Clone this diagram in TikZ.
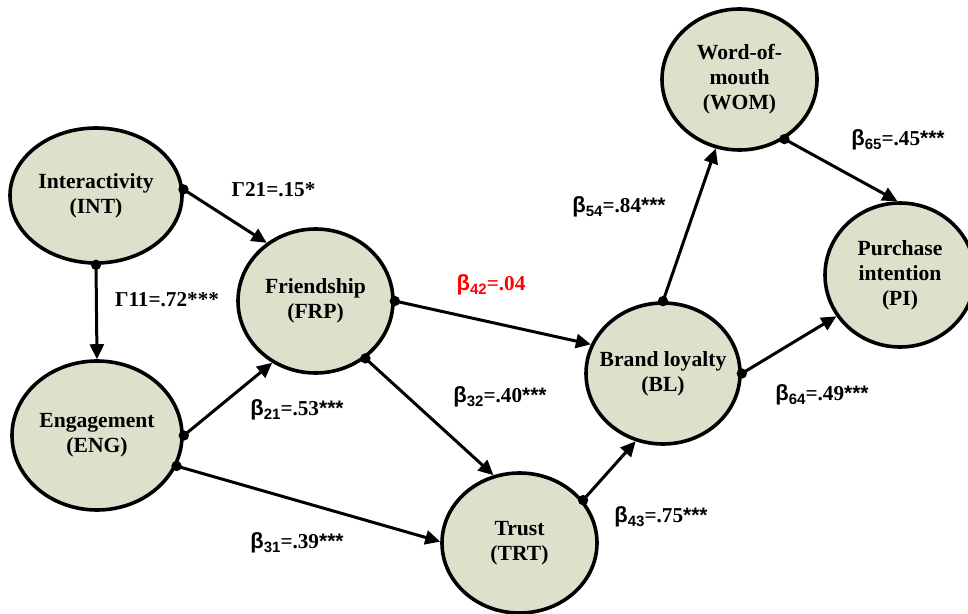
\documentclass[tikz,border=0pt]{standalone}
\usepackage{fontspec}
\setmainfont{Liberation Serif}
\newfontfamily\lsans{Liberation Sans}
\usetikzlibrary{arrows.meta,shapes.geometric}
\definecolor{nodefill}{RGB}{221,225,203}
\newcommand\blab[3]{{\lsans\bfseries\fontsize{11}{12}\selectfont β}\raisebox{-0.35ex}{\lsans\bfseries\fontsize{7.5}{8}\selectfont #1}=#2{\lsans\fontsize{10.5}{10}\selectfont #3}}
\begin{document}
\begin{tikzpicture}[x=0.5pt,y=-0.5pt,
  latent/.style={ellipse, draw=black, line width=1.8pt, fill=nodefill, inner sep=0pt},
  ntext/.style={align=center, inner sep=0pt, font=\fontsize{10.8}{12.5}\selectfont\bfseries},
  conn/.style={line width=1.5pt, -{Triangle[length=7.5pt,width=7pt]}},
  lab/.style={font=\fontsize{10.6}{12.5}\selectfont\bfseries, inner sep=0pt}]
\useasboundingbox (0,0) rectangle (968,614);
\fill[white] (0,0) rectangle (968,614);

\node[latent, minimum width=86pt, minimum height=67.5pt,
  label={[ntext]center:Interactivity\\(INT)}] (INT) at (96,195.5) {};
\node[latent, minimum width=85pt, minimum height=74.5pt,
  label={[ntext]center:Engagement\\(ENG)}] (ENG) at (97,435.5) {};
\node[latent, minimum width=77.5pt, minimum height=72pt,
  label={[ntext]center:Friendship\\(FRP)}] (FRP) at (315.5,301) {};
\node[latent, minimum width=77.5pt, minimum height=70pt,
  label={[ntext]center:Trust\\(TRT)}] (TRT) at (519.5,543) {};
\node[latent, minimum width=77pt, minimum height=70.5pt,
  label={[ntext]center:Brand loyalty\\(BL)}] (BL) at (663,373.5) {};
\node[latent, minimum width=77.5pt, minimum height=70.5pt,
  label={[ntext]center:Word-of-\\mouth\\(WOM)}] (WOM) at (739.5,79.5) {};
\node[latent, minimum width=75pt, minimum height=72pt,
  label={[ntext]center:Purchase\\intention\\(PI)}] (PI) at (900,275) {};

\draw[conn] (INT.4) -- (FRP.130);
\draw[conn] (INT.south) -- (ENG.north);
\draw[conn] (ENG.0) -- (FRP.235);
\draw[conn] (ENG.-21) -- (TRT.179);
\draw[conn] (FRP.0) -- (BL.158);
\draw[conn] (FRP.-49) -- (TRT.111);
\draw[conn] (TRT.34) -- (BL.248);
\draw[conn] (BL.90) -- (WOM.251);
\draw[conn] (BL.0) -- (PI.213);
\draw[conn] (WOM.-53) -- (PI.92);
\foreach \p in {INT.4, INT.south, ENG.0, ENG.-21, FRP.0, FRP.-49, TRT.34, BL.90, BL.0, WOM.-53}
  \fill (\p) circle (2.6pt);

\node[lab] (g21) at (273.5,190) {Γ21=.15*};
\node[lab] (g11) at (167,300) {Γ11=.72***};
\node[lab] (b21) at (297,410) {\blab{21}{.53}{***}};
\node[lab] (b31) at (297,543) {\blab{31}{.39}{***}};
\node[lab, text=red] (b42) at (491,285) {\blab{42}{.04}{}};
\node[lab] (b32) at (500,397) {\blab{32}{.40}{***}};
\node[lab] (b43) at (661,517) {\blab{43}{.75}{***}};
\node[lab] (b64) at (822,395) {\blab{64}{.49}{***}};
\node[lab] (b54) at (619,207) {\blab{54}{.84}{***}};
\node[lab] (b65) at (898,140) {\blab{65}{.45}{***}};
\end{tikzpicture}
\end{document}
